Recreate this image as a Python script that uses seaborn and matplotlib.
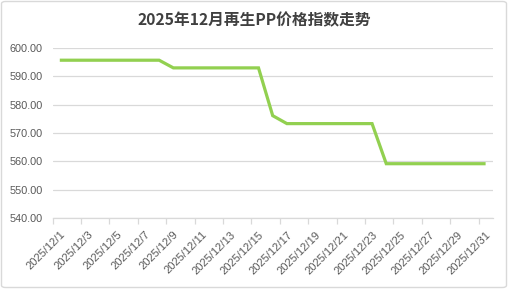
import matplotlib
matplotlib.use("Agg")
import matplotlib.pyplot as plt
import seaborn as sns
import pandas as pd
import numpy as np
from matplotlib.patches import FancyBboxPatch

dates = [f"2025/12/{d}" for d in range(1, 32)]
values = [595.6] * 8 + [592.9] * 7 + [576.1] + [573.3] * 7 + [559.2] * 8
y_ticks = [540, 550, 560, 570, 580, 590, 600]
title = "2025年12月再生PP价格指数走势"

sns.set_theme(style="white")
plt.rcParams['font.family'] = ['Liberation Sans', 'Noto Sans CJK SC', 'DejaVu Sans']

df = pd.DataFrame({"date": dates, "value": values})
df["pos"] = np.arange(len(df))

fig = plt.figure(figsize=(5.08, 2.89), dpi=100)
fig.patch.set_facecolor("white")
ax = fig.add_axes([52.7 / 508, 1 - 218.3 / 289, 440 / 508, (218.3 - 47.7) / 289])

sns.lineplot(data=df, x="pos", y="value", ax=ax, color="#92D050", linewidth=2.3,
             solid_capstyle="butt", solid_joinstyle="miter")

ax.set_xlim(-0.5, len(dates) - 0.5)
ax.set_ylim(540, 600)
ax.set_yticks(y_ticks)
ax.set_yticklabels([f"{v:.2f}" for v in y_ticks], fontsize=7.8, color="#595959")
ax.yaxis.grid(True, color="#D9D9D9", linewidth=0.9)
ax.set_axisbelow(True)

label_pos = df["pos"].iloc[::2].tolist()
ax.set_xticks(label_pos)
ax.set_xticklabels(df["date"].iloc[::2].tolist(), rotation=45, ha="right",
                   va="top", rotation_mode="anchor", fontsize=8.0, color="#595959")
ax.set_xticks(np.arange(-0.5, len(dates) - 0.5, 2), minor=True)
ax.tick_params(axis="x", which="major", length=0, pad=8)
ax.tick_params(axis="x", which="minor", length=4, width=0.9, color="#D9D9D9", direction="out", bottom=True)
ax.tick_params(axis="y", length=0, pad=7)

ax.set_xlabel("")
ax.set_ylabel("")
for s in ["left", "right", "top"]:
    ax.spines[s].set_visible(False)
ax.spines["bottom"].set_color("#D9D9D9")
ax.spines["bottom"].set_linewidth(0.9)

fig.text(254 / 508, 1 - 20 / 289, title, ha="center", va="center", fontsize=11.3,
         fontweight="bold", color="#404040", family=['Noto Sans CJK SC', 'DejaVu Sans'])

border = FancyBboxPatch((1.5 / 508, 1.5 / 289), 505 / 508, 286 / 289,
                        boxstyle="round,pad=0,rounding_size=0.008",
                        transform=fig.transFigure, facecolor="none",
                        edgecolor="#D9D9D9", linewidth=1.0)
fig.patches.append(border)

fig.savefig("out.png", dpi=100)
